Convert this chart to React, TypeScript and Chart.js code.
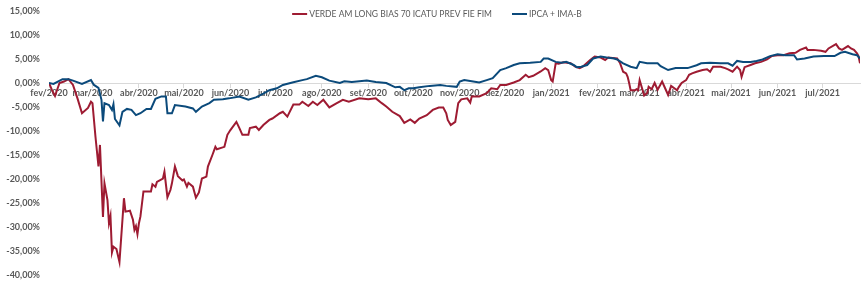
import React, { useEffect, useRef } from "react";
import { Chart, registerables } from "chart.js";

Chart.register(...registerables);

// Day offsets counted from 01/02/2020
const monthTickDays = [0, 29, 60, 90, 121, 151, 182, 213, 243, 274, 304, 335, 366, 394, 425, 455, 486, 516];
const monthLabels = [
  "fev/2020", "mar/2020", "abr/2020", "mai/2020", "jun/2020", "jul/2020", "ago/2020", "set/2020", "out/2020",
  "nov/2020", "dez/2020", "jan/2021", "fev/2021", "mar/2021", "abr/2021", "mai/2021", "jun/2021", "jul/2021",
];

const verdeLabel = "VERDE AM LONG BIAS 70 ICATU PREV FIE FIM";
const ipcaLabel = "IPCA + IMA-B";

const verdeDays = [
  0, 2, 4, 7, 10, 13, 16, 19, 22, 26,
  28, 29, 31, 33, 34, 36, 37, 39, 40, 41,
  42, 43, 45, 47, 49, 50, 51, 54, 56, 57,
  58, 59, 60, 61, 63, 68, 69, 71, 72, 76,
  77, 79, 81, 82, 84, 86, 89, 90, 92, 93,
  96, 98, 100, 102, 105, 106, 109, 111, 112, 117,
  119, 121, 125, 127, 129, 133, 134, 138, 140, 143,
  147, 149, 154, 156, 159, 163, 167, 169, 173, 176,
  179, 183, 187, 192, 196, 200, 207, 213, 218, 222,
  225, 229, 234, 237, 241, 244, 247, 252, 256, 260,
  263, 265, 266, 268, 271, 273, 275, 279, 281, 282,
  287, 292, 295, 299, 301, 305, 310, 314, 318, 320,
  323, 328, 331, 333, 335, 336, 338, 340, 343, 348,
  351, 354, 356, 361, 364, 368, 371, 373, 379, 381,
  383, 385, 386, 387, 388, 391, 392, 393, 394, 396,
  397, 399, 400, 402, 404, 406, 409, 411, 413, 415,
  419, 420, 422, 425, 427, 429, 432, 436, 439, 441,
  443, 448, 451, 453, 456, 459, 461, 462, 464, 468,
  471, 475, 479, 482, 486, 490, 494, 498, 501, 505,
  506, 510, 515, 518, 520, 525, 527, 529, 533, 535,
  537, 539, 540, 541,
];
const verdeValues = [
  0, -1.5, -2.7, 0, 0.3, 0.8, -0.4, -3.2, -6.3, -5.2,
  -3.9, -4.2, -11.2, -17.4, -12.9, -27.9, -20.9, -24.4, -29.2, -27.7,
  -35.3, -34.1, -34.6, -37.3, -28.5, -24.0, -26.8, -26.6, -28.5, -30.6,
  -29.8, -31.5, -29.2, -27.8, -22.6, -22.6, -21.1, -21.6, -20.6, -19.9,
  -18.5, -23.8, -22.3, -20.9, -17.4, -19.4, -20.3, -20.1, -21.6, -20.8,
  -21.6, -23.9, -22.8, -19.9, -19.5, -17.4, -15.0, -13.3, -13.8, -13.3,
  -10.8, -9.8, -8.1, -9.4, -10.8, -10.8, -9.4, -9.1, -9.8, -8.75,
  -7.7, -7.4, -6.3, -6.0, -7.0, -4.5, -4.5, -3.9, -4.8, -3.9,
  -4.6, -3.5, -5.1, -4.2, -3.5, -3.9, -3.2, -3.4, -3.2, -4.2,
  -4.9, -6.0, -6.9, -8.3, -7.6, -8.3, -7.4, -6.7, -5.6, -5.1,
  -5.1, -6.3, -7.7, -8.75, -8.1, -4.2, -3.4, -3.2, -4.1, -2.8,
  -2.8, -2.1, -1.1, -1.3, -0.4, -0.4, 0.1, 0.6, 1.7, 1.2,
  1.5, 2.4, 3.1, 2.7, 0.6, 0.3, 4.1, 4.0, 4.3, 4.1,
  3.4, 3.1, 3.4, 4.8, 5.5, 5.3, 4.8, 5.3, 5.1, 4.1,
  2.35, 2.0, 1.3, 0.0, -1.5, -1.5, -1.3, -1.5, 0.6, -1.5,
  -2.6, -2.1, -0.8, -1.3, 0.0, -1.4, 0.3, -1.1, -2.5, -0.6,
  -1.5, -0.9, 0.0, 0.6, 1.7, 2.0, 2.35, 2.7, 2.85, 2.35,
  3.4, 3.4, 3.1, 2.85, 2.35, 3.4, 2.7, 1.3, 3.3, 3.75,
  4.1, 4.4, 4.9, 5.6, 5.8, 5.8, 6.2, 6.3, 6.9, 7.4,
  6.9, 6.9, 6.7, 6.5, 7.2, 8.1, 7.2, 6.9, 7.7, 7.2,
  6.9, 6.2, 5.6, 4.1,
];

const ipcaDays = [
  0, 3, 9, 13, 16, 22, 28, 30, 33, 35,
  36, 37, 40, 42, 43, 44, 47, 49, 52, 55,
  58, 61, 65, 68, 71, 75, 78, 79, 82, 84,
  91, 96, 98, 102, 107, 110, 116, 120, 127, 133,
  138, 143, 147, 152, 156, 163, 169, 172, 178, 182,
  187, 194, 197, 202, 212, 218, 225, 231, 234, 237,
  240, 243, 247, 254, 261, 265, 272, 274, 277, 283,
  287, 292, 296, 301, 305, 310, 314, 321, 328, 330,
  333, 338, 342, 345, 350, 352, 355, 359, 363, 368,
  372, 377, 379, 383, 388, 392, 394, 399, 406, 408,
  413, 418, 426, 432, 435, 441, 448, 453, 456, 459,
  463, 468, 472, 476, 481, 486, 491, 497, 499, 504,
  510, 517, 524, 528, 531, 536, 539, 541,
];
const ipcaValues = [
  0, -0.2, 0.8, 0.8, 0.5, -0.2, 0.6, -0.4, -1.0, -3.5,
  -8.0, -4.2, -4.6, -5.6, -4.4, -7.5, -8.8, -6.0, -5.4, -5.6,
  -6.7, -6.3, -5.4, -5.4, -3.3, -2.8, -2.8, -6.3, -6.3, -4.6,
  -4.9, -5.3, -6.0, -4.9, -4.2, -3.5, -3.4, -3.2, -2.8, -3.5,
  -3.0, -2.2, -1.5, -1.1, -0.4, 0.15, 0.6, 0.8, 1.5, 1.2,
  0.5, 0.0, 0.35, 0.2, 0.5, 0.2, 0.0, -0.9, -0.8, -1.5,
  -1.1, -1.1, -0.9, -0.6, -0.4, -0.6, -0.8, 0.3, 0.6, 0.3,
  0.1, 0.6, 1.0, 2.7, 3.1, 3.75, 4.1, 4.2, 4.4, 5.1,
  5.1, 4.4, 4.2, 4.4, 3.75, 3.3, 3.4, 3.75, 5.1, 5.5,
  5.3, 5.1, 4.9, 4.1, 3.4, 3.1, 4.4, 4.1, 4.1, 3.5,
  2.7, 3.1, 3.1, 3.7, 4.1, 4.2, 4.1, 4.1, 3.6, 4.6,
  4.4, 4.4, 4.6, 4.9, 5.6, 6.0, 5.8, 5.8, 4.9, 5.1,
  5.5, 5.6, 5.6, 6.3, 6.5, 6.0, 5.8, 5.1,
];

const RED = "#9E1B32";
const BLUE = "#0B4A7B";
const GRAY = "#595959";
const FONT = "Lato, 'Open Sans', sans-serif";

const toPoints = (days: number[], vals: number[]) =>
  days.slice(0, Math.min(days.length, vals.length)).map((d, i) => ({ x: d, y: vals[i] }));

const fmtPct = (v: number) => v.toFixed(2).replace(".", ",") + "%";

const overlayLegend = {
  id: "overlayLegend",
  afterDraw(chart: any) {
    const ctx = chart.ctx;
    const items = chart.data.datasets.map((d: any) => ({ text: d.label, color: d.borderColor }));
    ctx.save();
    ctx.font = `8.5px ${FONT}`;
    const lineW = 15;
    const gap = 2;
    const itemGap = 20;
    const widths = items.map((it: any) => lineW + gap + ctx.measureText(it.text).width);
    const total = widths.reduce((a: number, b: number) => a + b, 0) + itemGap * (items.length - 1);
    let x = 437 - total / 2;
    const y = 14;
    items.forEach((it: any, i: number) => {
      ctx.strokeStyle = it.color;
      ctx.lineWidth = 2;
      ctx.beginPath();
      ctx.moveTo(x, y);
      ctx.lineTo(x + lineW, y);
      ctx.stroke();
      ctx.fillStyle = GRAY;
      ctx.textBaseline = "middle";
      ctx.textAlign = "left";
      ctx.fillText(it.text, x + lineW + gap, y);
      x += widths[i] + itemGap;
    });
    ctx.restore();
  },
};

export default function App() {
  const ref = useRef<HTMLCanvasElement>(null);
  useEffect(() => {
    document.body.style.margin = "0";
    if (!ref.current) return;
    const chart = new Chart(ref.current, {
      type: "line",
      data: {
        datasets: [
          {
            label: verdeLabel,
            data: toPoints(verdeDays, verdeValues),
            borderColor: RED,
            backgroundColor: RED,
            borderWidth: 2,
            pointRadius: 0,
            tension: 0,
            order: 2,
          },
          {
            label: ipcaLabel,
            data: toPoints(ipcaDays, ipcaValues),
            borderColor: BLUE,
            backgroundColor: BLUE,
            borderWidth: 2,
            pointRadius: 0,
            tension: 0,
            order: 1,
          },
        ],
      },
      options: {
        responsive: false,
        animation: false,
        layout: { padding: { top: 11, right: 2, bottom: 13, left: 0 } },
        plugins: { legend: { display: false }, tooltip: { enabled: false } },
        scales: {
          x: {
            type: "linear",
            position: { y: 0 } as any,
            min: 0,
            max: 541,
            afterBuildTicks: (scale: any) => {
              scale.ticks = monthTickDays.map((v) => ({ value: v }));
            },
            grid: { display: true, drawOnChartArea: false, drawTicks: true, tickLength: 4, color: "#D9D9D9" },
            border: { display: true, color: "#D9D9D9", width: 1 },
            ticks: {
              autoSkip: false,
              maxRotation: 0,
              padding: 1,
              color: GRAY,
              font: { family: FONT, size: 9, weight: "bold" },
              callback: (v: any) => {
                const i = monthTickDays.indexOf(Number(v));
                return i >= 0 ? monthLabels[i] : "";
              },
            },
          },
          y: {
            min: -40,
            max: 15,
            afterFit: (scale: any) => {
              scale.width = 49;
              scale.paddingTop = 0;
              scale.paddingBottom = 0;
            },
            grid: { display: false, drawTicks: false },
            border: { display: false },
            ticks: {
              stepSize: 5,
              padding: 9,
              color: GRAY,
              font: { family: FONT, size: 9, weight: "bold" },
              callback: (v: any) => fmtPct(Number(v)),
            },
          },
        },
      },
      plugins: [overlayLegend],
    });
    return () => chart.destroy();
  }, []);
  return <canvas ref={ref} width={862} height={288} style={{ display: "block" }} />;
}
